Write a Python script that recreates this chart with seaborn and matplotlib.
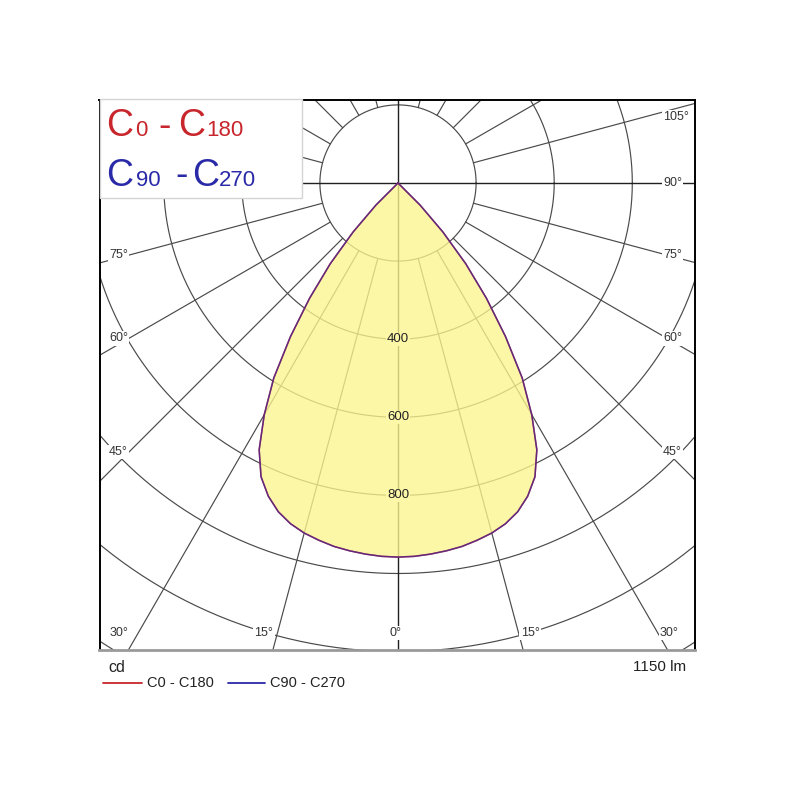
import numpy as np
import pandas as pd
import matplotlib
matplotlib.use("Agg")
import matplotlib.pyplot as plt
import seaborn as sns
from matplotlib.patches import Rectangle

# ---------------- data ----------------
gamma_deg = [0, 2.5, 5, 7.5, 10, 12.5, 15, 17.5, 20, 22.5, 25, 27.5, 30, 32.5,
             35, 37.5, 40, 42.5, 45, 47.5, 50, 60, 75, 90, 105, 120, 135, 150, 165, 180]
cd_c0_c180 = [958, 957, 954, 950, 945, 937, 928, 915, 896, 868, 830, 770, 685, 592,
              480, 372, 270, 170, 80, 0, 0, 0, 0, 0, 0, 0, 0, 0, 0, 0]
cd_c90_c270 = [958, 957, 954, 950, 945, 937, 928, 915, 896, 868, 830, 770, 685, 592,
               480, 372, 270, 170, 80, 0, 0, 0, 0, 0, 0, 0, 0, 0, 0, 0]
ring_values = [200, 400, 600, 800, 1000, 1200, 1400]
ring_labels = ["400", "600", "800"]
side_angle_ticks_right = [45, 60, 75, 90, 105]
side_angle_ticks_left = [45, 60, 75]
bottom_angle_ticks = [0, 15, 30]
plane_names = ["C0 - C180", "C90 - C270"]
flux_text = "1150 lm"
unit_text = "cd"

# ---------------- style ----------------
sns.set_theme(style="white")
plt.rcParams['font.family'] = ['Liberation Sans', 'DejaVu Sans']

RED = "#c8262c"
BLUE = "#2a2aa8"
GRID = "#4a4a4a"

W = H = 800
fig = plt.figure(figsize=(8, 8), dpi=100)
fig.patch.set_facecolor("white")

# pixel geometry
CX, CY = 398.0, 183.0
S = 0.3905            # px per cd
L, R, T, B = 99.5, 695.0, 99.5, 650.0
ax = fig.add_axes([L / W, 1 - B / H, (R - L) / W, (B - T) / H])
ax.set_xticks([]); ax.set_yticks([])
ax.set_facecolor("white")
for side in ["left", "top", "right"]:
    ax.spines[side].set_color("black"); ax.spines[side].set_linewidth(1.4)
ax.spines["bottom"].set_color("#9a9a9a"); ax.spines["bottom"].set_linewidth(2.0)
for sp in ax.spines.values():
    sp.set_zorder(10)


def px2d(xp, yp):
    return (xp - CX) / S, (CY - yp) / S


# ---------------- grid ----------------
t = np.linspace(0, 2 * np.pi, 721)
for rv in ring_values:
    ax.plot(rv * np.cos(t), rv * np.sin(t), color=GRID, lw=0.85, zorder=1)
big = 4000
for a in range(15, 180, 15):
    if a == 90:
        continue
    ar = np.radians(a)
    for sgn in (1, -1):
        ax.plot([sgn * 200 * np.sin(ar), sgn * big * np.sin(ar)],
                [-200 * np.cos(ar), -big * np.cos(ar)], color=GRID, lw=0.85, zorder=1)
ax.plot([-big, big], [0, 0], color="#202020", lw=1.0, zorder=1)
ax.plot([0, 0], [-big, big], color="#202020", lw=1.0, zorder=1)

# ---------------- curves ----------------
def plane_xy(vals):
    g = np.radians(np.array(gamma_deg, dtype=float))
    v = np.array(vals, dtype=float)
    xr = v * np.sin(g); yr = -v * np.cos(g)
    x = np.concatenate([xr[::-1], -xr[1:]])
    y = np.concatenate([yr[::-1], yr[1:]])
    return x, y

x0, y0 = plane_xy(cd_c0_c180)
x9, y9 = plane_xy(cd_c90_c270)
ax.fill(x0, y0, facecolor=(0.99, 0.965, 0.56), alpha=0.78, edgecolor="none", zorder=2)

df0 = pd.DataFrame({"x": x0, "y": y0})
df9 = pd.DataFrame({"x": x9, "y": y9})
sns.lineplot(data=df0, x="x", y="y", sort=False, estimator=None, color=RED,
             lw=1.1, ax=ax, zorder=3)
sns.lineplot(data=df9, x="x", y="y", sort=False, estimator=None, color=BLUE,
             lw=1.1, alpha=0.65, ax=ax, zorder=4)
ax.set_xlabel(""); ax.set_ylabel("")
ax.set_xlim((L - CX) / S, (R - CX) / S)
ax.set_ylim((CY - B) / S, (CY - T) / S)

# ring labels
for lab in ring_labels:
    v = float(lab)
    ax.text(0, -v, lab, fontsize=9.5, color="#222222", ha="center", va="center",
            zorder=5, bbox=dict(boxstyle="square,pad=0.05", fc="#fdf7a8", ec="none"))

# angle labels
lab_kw = dict(fontsize=9, color="#333333", va="center", zorder=6,
              bbox=dict(boxstyle="square,pad=0.1", fc="white", ec="none"))


def side_y(a):
    ar = np.radians(a)
    yp = CY + 269 * np.cos(ar) / np.sin(ar)
    if a == 105:
        yp += 6
    return yp


for a in side_angle_ticks_left:
    ax.text(*px2d(128, side_y(a)), f"{a}°", ha="right", **lab_kw)
for a in side_angle_ticks_right:
    ax.text(*px2d(663, side_y(a)), f"{a}°", ha="left", **lab_kw)
for a in bottom_angle_ticks:
    ar = np.radians(a)
    dx = 450 * np.tan(ar)
    if a == 0:
        ax.text(*px2d(396, 633), "0°", ha="center", **lab_kw)
        continue
    off = 4 if a == 15 else 10
    ax.text(*px2d(CX - dx - off, 633), f"{a}°", ha="right", **lab_kw)
    ax.text(*px2d(CX + dx + 2, 633), f"{a}°", ha="left", **lab_kw)

# ---------------- title box ----------------
fig.patches.append(Rectangle((L / W, 1 - 198 / H), (302 - L) / W, (198 - T) / H,
                             transform=fig.transFigure, facecolor="white",
                             edgecolor="#d4d4d4", lw=1.0, zorder=20))


def ftxt(xp, yp, s, size, color):
    fig.text(xp / W, 1 - yp / H, s, fontsize=size, color=color, va="baseline",
             ha="left", zorder=21)


ftxt(106, 136.5, "C", 27, RED)
ftxt(135, 136.5, "0", 16, RED)
ftxt(158, 136.5, "-", 27, RED)
ftxt(178, 136.5, "C", 27, RED)
ftxt(206, 136.5, "180", 16, RED)
ftxt(106, 186, "C", 27, BLUE)
ftxt(136, 186, "90", 16, BLUE)
ftxt(175, 186, "-", 27, BLUE)
ftxt(192, 186, "C", 27, BLUE)
ftxt(219, 186, "270", 16, BLUE)

# ---------------- bottom legend ----------------
fig.text(108 / W, 1 - 672 / H, unit_text, fontsize=11.5, color="#222222", va="baseline")
fig.text(686 / W, 1 - 667 / H, flux_text, fontsize=11, color="#222222", va="center", ha="right")
fig.add_artist(plt.Line2D([103 / W, 142 / W], [1 - 683 / H] * 2, color=RED, lw=1.3))
fig.text(147 / W, 1 - 683 / H, plane_names[0], fontsize=10.5, color="#222222", va="center")
fig.add_artist(plt.Line2D([228 / W, 265 / W], [1 - 683 / H] * 2, color=BLUE, lw=1.3))
fig.text(270 / W, 1 - 683 / H, plane_names[1], fontsize=10.5, color="#222222", va="center")

fig.savefig("out.png", dpi=100, facecolor="white")
